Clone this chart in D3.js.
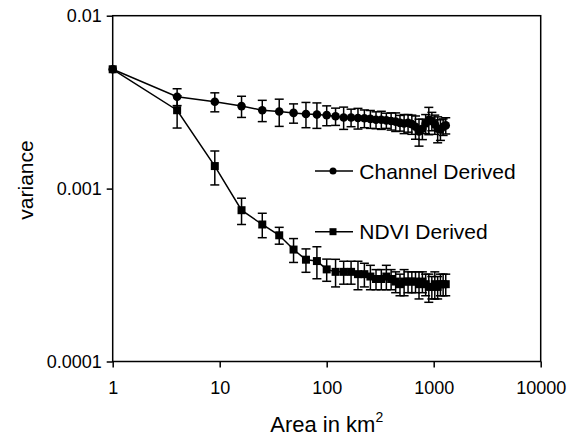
<!DOCTYPE html>
<html>
<head>
<meta charset="utf-8">
<script src="https://cdn.jsdelivr.net/npm/d3@7"></script>
<style>
  body { margin: 0; background: #fff; }
  svg { display: block; font-family: "Liberation Sans", Arial, Helvetica, sans-serif; }
</style>
</head>
<body>
<svg id="chart" width="568" height="436"></svg>
<script>
// area in km^2 (x values, shared by both series)
const areas = [1, 4, 9, 16, 25, 36, 49, 64, 81, 100, 121, 144, 169, 196, 225, 256, 289, 324,
    361, 400, 441, 484, 529, 576, 625, 676, 729, 784, 841, 900, 961, 1024, 1089, 1156, 1225, 1296];

const channelVar = [0.0049, 0.0034, 0.00318, 0.0030, 0.00284, 0.00279, 0.00274, 0.0027, 0.00268,
    0.00266, 0.00262, 0.00258, 0.00258, 0.00256, 0.00255, 0.00253, 0.0025, 0.0025, 0.00248,
    0.00246, 0.00244, 0.0024, 0.00238, 0.0024, 0.00236, 0.00228, 0.00214, 0.00222, 0.00238,
    0.0025, 0.00246, 0.00236, 0.00222, 0.0022, 0.00228, 0.00232];
const channelErr = [0, 0.00038, 0.0004, 0.00042, 0.0004, 0.0005, 0.00035, 0.00045, 0.00045,
    0.00035, 0.0003, 0.00038, 0.0003, 0.00035, 0.0003, 0.0003, 0.00028, 0.0003, 0.00025,
    0.00028, 0.0003, 0.00025, 0.0003, 0.00028, 0.0003, 0.00035, 0.00038, 0.0003, 0.0003,
    0.00045, 0.0003, 0.0003, 0.00038, 0.0003, 0.00025, 0.00025];

const ndviVar = [0.0049, 0.00284, 0.00135, 0.00075, 0.00062, 0.000537, 0.000444, 0.000388, 0.000381,
    0.000341, 0.00033, 0.00033, 0.00033, 0.00032, 0.00032, 0.00031, 0.0003, 0.0003, 0.00031,
    0.0003, 0.00029, 0.00028, 0.00029, 0.00029, 0.00029, 0.00029, 0.00028, 0.00029, 0.00028,
    0.00027, 0.00027, 0.00028, 0.00027, 0.00028, 0.00028, 0.00028];
const ndviErr = [0, 0.0006, 0.0003, 0.00013, 0.0001, 0.00006, 0.00007, 0.00006, 0.00008,
    0.00005, 0.00006, 0.00005, 0.00005, 0.00006, 0.00005, 0.00005, 0.00004, 0.00004, 0.00005,
    0.00004, 0.00004, 0.00004, 0.00005, 0.00004, 0.00004, 0.00004, 0.00005, 0.00004, 0.00004,
    0.00005, 0.00004, 0.00005, 0.00004, 0.00004, 0.00004, 0.00004];

const xTicks = [1, 10, 100, 1000, 10000];
const yTicks = [0.0001, 0.001, 0.01];
const seriesNames = ["Channel Derived", "NDVI Derived"];

window.addEventListener('load', () => {
    let svg = d3.select("#chart");
    const left = 112.7, right = 540.7, top = 15.7, bottom = 361.5;

    let x = d3.scaleLog().domain([1, 10000]).range([left, right]);
    let y = d3.scaleLog().domain([0.0001, 0.01]).range([bottom, top]);

    // frame
    svg.append("rect")
        .attr("x", left).attr("y", top)
        .attr("width", right - left).attr("height", bottom - top)
        .attr("fill", "none").attr("stroke", "#000").attr("stroke-width", 1.5);

    let xaxis = svg.append("g")
        .attr("transform", `translate(0,${bottom})`)
        .call(d3.axisBottom(x).tickValues(xTicks).tickFormat(d => String(d)).tickSize(6).tickPadding(14));
    let yaxis = svg.append("g")
        .attr("transform", `translate(${left},0)`)
        .call(d3.axisLeft(y).tickValues(yTicks).tickFormat(d => String(d)).tickSize(6).tickPadding(5));

    for (let ax of [xaxis, yaxis]) {
        ax.select(".domain").remove();
        ax.selectAll(".tick line").attr("stroke", "#000").attr("stroke-width", 1.5);
        ax.selectAll(".tick text").attr("font-size", 18).attr("fill", "#000")
            .attr("font-family", "Liberation Sans, Arial, sans-serif");
    }

    // axis titles
    let xt = svg.append("text")
        .attr("x", (left + right) / 2).attr("y", 431.5)
        .attr("text-anchor", "middle").attr("font-size", 22);
    xt.append("tspan").text("Area in km");
    xt.append("tspan").attr("font-size", 14).attr("dy", -10).text("2");

    svg.append("text")
        .attr("transform", "translate(33,180) rotate(-90)")
        .attr("text-anchor", "middle").attr("font-size", 21)
        .text("variance");

    const series = [
        {name: seriesNames[0], vals: channelVar, err: channelErr, shape: "circle"},
        {name: seriesNames[1], vals: ndviVar, err: ndviErr, shape: "square"}
    ];

    let line = d3.line().x(d => x(d.a)).y(d => y(d.v));

    for (let s of series) {
        let data = areas.map((a, i) => ({a: a, v: s.vals[i], e: s.err[i]}));
        let g = svg.append("g");

        g.append("path").datum(data)
            .attr("d", line)
            .attr("fill", "none").attr("stroke", "#000").attr("stroke-width", 1.5);

        let eb = g.selectAll(".eb").data(data.filter(d => d.e > 0)).enter().append("g");
        eb.append("line")
            .attr("x1", d => x(d.a)).attr("x2", d => x(d.a))
            .attr("y1", d => y(d.v + d.e)).attr("y2", d => y(d.v - d.e));
        eb.append("line")
            .attr("x1", d => x(d.a) - 4.5).attr("x2", d => x(d.a) + 4.5)
            .attr("y1", d => y(d.v + d.e)).attr("y2", d => y(d.v + d.e));
        eb.append("line")
            .attr("x1", d => x(d.a) - 4.5).attr("x2", d => x(d.a) + 4.5)
            .attr("y1", d => y(d.v - d.e)).attr("y2", d => y(d.v - d.e));
        eb.selectAll("line").attr("stroke", "#000").attr("stroke-width", 1.5);

        if (s.shape == "circle") {
            g.selectAll(".pt").data(data).enter().append("circle")
                .attr("cx", d => x(d.a)).attr("cy", d => y(d.v)).attr("r", 4.3)
                .attr("fill", "#000");
        } else {
            g.selectAll(".pt").data(data).enter().append("rect")
                .attr("x", d => x(d.a) - 4).attr("y", d => y(d.v) - 4)
                .attr("width", 8).attr("height", 8)
                .attr("fill", "#000");
        }
    }

    // legend
    const legendY = [171, 231.7];
    series.forEach((s, i) => {
        let ly = legendY[i];
        let lg = svg.append("g");
        lg.append("line")
            .attr("x1", 315).attr("x2", 353).attr("y1", ly).attr("y2", ly)
            .attr("stroke", "#000").attr("stroke-width", 1.5);
        if (s.shape == "circle") {
            lg.append("circle").attr("cx", 333).attr("cy", ly).attr("r", 3.5).attr("fill", "#000");
        } else {
            lg.append("rect").attr("x", 329.5).attr("y", ly - 3.5)
                .attr("width", 7).attr("height", 7).attr("fill", "#000");
        }
        lg.append("text")
            .attr("x", 359.3).attr("y", ly + 7.5)
            .attr("font-size", 21)
            .text(s.name);
    });
});
</script>
</body>
</html>
